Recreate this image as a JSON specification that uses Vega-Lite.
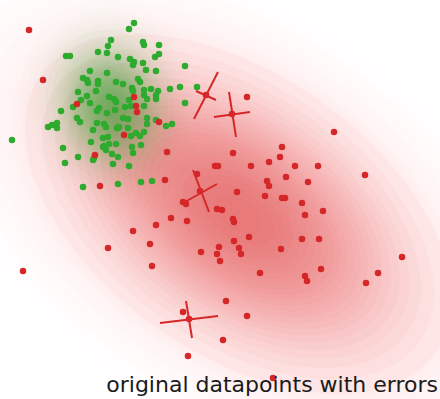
{
  "$schema": "https://vega.github.io/schema/vega-lite/v6.json",
  "width": 440,
  "height": 399,
  "autosize": {"type": "fit", "contains": "padding"},
  "padding": 0,
  "background": "white",
  "config": {"view": {"stroke": null}},
  "resolve": {"scale": {"size": "independent"}},
  "datasets": {
    "redTail": [
      {"cx":238,"cy":214,"p":0.006},{"cx":238,"cy":214,"p":0.015},{"cx":238,"cy":214,"p":0.025},{"cx":238,"cy":214,"p":0.035},
      {"cx":238,"cy":214,"p":0.045},{"cx":238,"cy":214,"p":0.055},{"cx":238,"cy":214,"p":0.065},{"cx":238,"cy":214,"p":0.075},{"cx":238,"cy":214,"p":0.085}
    ],
    "redDensity": [
      {"cx":238,"cy":214,"p":0.09},{"cx":238,"cy":214,"p":0.13},{"cx":238,"cy":214,"p":0.17},
      {"cx":238,"cy":214,"p":0.21},{"cx":238,"cy":214,"p":0.25},{"cx":238,"cy":214,"p":0.29},{"cx":238,"cy":214,"p":0.33},{"cx":238,"cy":214,"p":0.37},
      {"cx":238,"cy":214,"p":0.41},{"cx":238,"cy":214,"p":0.45},{"cx":238,"cy":214,"p":0.49},{"cx":238,"cy":214,"p":0.53},{"cx":238,"cy":214,"p":0.57},
      {"cx":238,"cy":214,"p":0.61},{"cx":238,"cy":214,"p":0.65},{"cx":238,"cy":214,"p":0.69},{"cx":238,"cy":214,"p":0.73},{"cx":238,"cy":214,"p":0.77},
      {"cx":238,"cy":214,"p":0.81},{"cx":238,"cy":214,"p":0.85},{"cx":238,"cy":214,"p":0.89},{"cx":238,"cy":214,"p":0.93},{"cx":238,"cy":214,"p":0.97}
    ],
    "greenTail": [
      {"cx":110,"cy":105,"p":0.005},{"cx":110,"cy":105,"p":0.012},{"cx":110,"cy":105,"p":0.02},{"cx":110,"cy":105,"p":0.03},{"cx":110,"cy":105,"p":0.04},{"cx":110,"cy":105,"p":0.05}
    ],
    "greenDensity": [
      {"cx":110,"cy":105,"p":0.07},{"cx":110,"cy":105,"p":0.11},{"cx":110,"cy":105,"p":0.15},{"cx":110,"cy":105,"p":0.19},
      {"cx":110,"cy":105,"p":0.23},{"cx":110,"cy":105,"p":0.27},{"cx":110,"cy":105,"p":0.31},{"cx":110,"cy":105,"p":0.35},{"cx":110,"cy":105,"p":0.39},
      {"cx":110,"cy":105,"p":0.43},{"cx":110,"cy":105,"p":0.47},{"cx":110,"cy":105,"p":0.51},{"cx":110,"cy":105,"p":0.55},{"cx":110,"cy":105,"p":0.59},
      {"cx":110,"cy":105,"p":0.63},{"cx":110,"cy":105,"p":0.67},{"cx":110,"cy":105,"p":0.71},{"cx":110,"cy":105,"p":0.75},{"cx":110,"cy":105,"p":0.79},
      {"cx":110,"cy":105,"p":0.83},{"cx":110,"cy":105,"p":0.87},{"cx":110,"cy":105,"p":0.91},{"cx":110,"cy":105,"p":0.95},{"cx":110,"cy":105,"p":0.99}
    ],
    "errors": [
      {"x1": 218, "y1": 72, "x2": 194, "y2": 119},
      {"x1": 196, "y1": 91, "x2": 216, "y2": 100},
      {"x1": 229, "y1": 92, "x2": 236, "y2": 137},
      {"x1": 214, "y1": 117, "x2": 250, "y2": 112},
      {"x1": 193, "y1": 170, "x2": 209, "y2": 212},
      {"x1": 183, "y1": 203, "x2": 217, "y2": 184},
      {"x1": 160, "y1": 323, "x2": 218, "y2": 316},
      {"x1": 186, "y1": 301, "x2": 192, "y2": 338}
    ],
    "green": [
      {"x":134,"y":23},{"x":129,"y":29},{"x":111,"y":40},{"x":108,"y":46},{"x":107,"y":53},{"x":98,"y":52},{"x":66,"y":56},{"x":70,"y":56},
      {"x":143,"y":42},{"x":144,"y":45},{"x":159,"y":45},{"x":118,"y":57},{"x":130,"y":59},{"x":134,"y":62},{"x":133,"y":65},{"x":143,"y":63},
      {"x":155,"y":57},{"x":159,"y":54},{"x":185,"y":66},{"x":90,"y":71},{"x":107,"y":73},{"x":146,"y":70},{"x":156,"y":71},{"x":83,"y":78},
      {"x":87,"y":80},{"x":98,"y":81},{"x":98,"y":84},{"x":88,"y":83},{"x":116,"y":82},{"x":123,"y":84},{"x":138,"y":79},{"x":140,"y":82},
      {"x":132,"y":88},{"x":133,"y":91},{"x":144,"y":90},{"x":151,"y":89},{"x":158,"y":91},{"x":170,"y":89},{"x":180,"y":87},{"x":197,"y":87},
      {"x":78,"y":92},{"x":96,"y":91},{"x":87,"y":96},{"x":81,"y":100},{"x":109,"y":97},{"x":114,"y":99},{"x":116,"y":102},{"x":90,"y":103},
      {"x":129,"y":100},{"x":144,"y":95},{"x":147,"y":99},{"x":156,"y":99},{"x":156,"y":95},{"x":185,"y":103},{"x":73,"y":107},{"x":99,"y":108},
      {"x":97,"y":111},{"x":107,"y":113},{"x":115,"y":110},{"x":125,"y":107},{"x":131,"y":106},{"x":144,"y":106},{"x":61,"y":111},{"x":77,"y":118},
      {"x":80,"y":122},{"x":123,"y":118},{"x":128,"y":119},{"x":147,"y":118},{"x":147,"y":124},{"x":156,"y":120},{"x":166,"y":126},{"x":172,"y":124},
      {"x":48,"y":127},{"x":52,"y":125},{"x":57,"y":123},{"x":57,"y":128},{"x":97,"y":123},{"x":104,"y":124},{"x":106,"y":127},{"x":117,"y":128},
      {"x":119,"y":127},{"x":128,"y":128},{"x":93,"y":130},{"x":131,"y":136},{"x":136,"y":133},{"x":140,"y":136},{"x":144,"y":132},{"x":12,"y":140},
      {"x":103,"y":138},{"x":108,"y":137},{"x":91,"y":142},{"x":109,"y":144},{"x":116,"y":144},{"x":103,"y":147},{"x":106,"y":150},{"x":104,"y":146},
      {"x":132,"y":147},{"x":141,"y":145},{"x":133,"y":153},{"x":63,"y":148},{"x":112,"y":154},{"x":118,"y":157},{"x":78,"y":157},{"x":93,"y":160},
      {"x":94,"y":158},{"x":65,"y":163},{"x":113,"y":164},{"x":129,"y":166},{"x":83,"y":187},{"x":118,"y":184},{"x":141,"y":182},{"x":152,"y":181}
    ],
    "red": [
      {"x":29,"y":30},{"x":43,"y":80},{"x":77,"y":104},{"x":134,"y":97},{"x":136,"y":106},{"x":137,"y":112},{"x":159,"y":122},{"x":124,"y":135},
      {"x":95,"y":155},{"x":167,"y":152},{"x":165,"y":180},{"x":100,"y":186},{"x":197,"y":174},{"x":215,"y":166},{"x":218,"y":166},{"x":206,"y":95},
      {"x":232,"y":114},{"x":200,"y":191},{"x":189,"y":319},{"x":247,"y":97},{"x":334,"y":132},{"x":282,"y":147},{"x":233,"y":153},{"x":280,"y":157},
      {"x":251,"y":166},{"x":269,"y":162},{"x":295,"y":166},{"x":318,"y":166},{"x":365,"y":175},{"x":286,"y":177},{"x":267,"y":181},{"x":269,"y":186},
      {"x":308,"y":182},{"x":237,"y":192},{"x":265,"y":196},{"x":282,"y":198},{"x":285,"y":198},{"x":183,"y":202},{"x":186,"y":204},{"x":217,"y":209},
      {"x":222,"y":210},{"x":171,"y":218},{"x":187,"y":221},{"x":233,"y":219},{"x":234,"y":222},{"x":156,"y":225},{"x":133,"y":231},{"x":249,"y":237},
      {"x":150,"y":244},{"x":108,"y":248},{"x":219,"y":247},{"x":234,"y":241},{"x":239,"y":248},{"x":241,"y":254},{"x":201,"y":252},{"x":217,"y":254},
      {"x":220,"y":261},{"x":152,"y":266},{"x":23,"y":271},{"x":260,"y":273},{"x":302,"y":203},{"x":323,"y":211},{"x":305,"y":215},{"x":302,"y":239},
      {"x":319,"y":239},{"x":281,"y":249},{"x":321,"y":269},{"x":305,"y":276},{"x":307,"y":281},{"x":402,"y":257},{"x":378,"y":273},{"x":366,"y":283},
      {"x":226,"y":301},{"x":183,"y":312},{"x":247,"y":316},{"x":223,"y":340},{"x":188,"y":356},{"x":273,"y":378}
    ],
    "caption": [{"label": "original datapoints with errors", "x": 438, "y": 392}]
  },
  "layer": [
    {
      "data": {"name": "redTail"},
      "mark": {"type": "point", "shape": "M -1 0 A 1 0.58 0 1 0 1 0 A 1 0.58 0 1 0 -1 0 Z", "filled": true, "color": "#d62728", "opacity": 0.006, "angle": 35, "strokeWidth": 0, "clip": true},
      "encoding": {
        "x": {"field": "cx", "type": "quantitative", "scale": {"domain": [0, 440], "nice": false, "zero": false}, "axis": null},
        "y": {"field": "cy", "type": "quantitative", "scale": {"domain": [0, 399], "nice": false, "zero": false, "reverse": true}, "axis": null},
        "size": {"field": "p", "type": "quantitative", "scale": {"type": "log", "domain": [1, 0.01], "range": [0, 444000]}, "legend": null}
      }
    },
    {
      "data": {"name": "redDensity"},
      "mark": {"type": "point", "shape": "M -1 0 A 1 0.58 0 1 0 1 0 A 1 0.58 0 1 0 -1 0 Z", "filled": true, "color": "#d62728", "opacity": 0.032, "angle": 35, "strokeWidth": 0, "clip": true},
      "encoding": {
        "x": {"field": "cx", "type": "quantitative", "scale": {"domain": [0, 440], "nice": false, "zero": false}, "axis": null},
        "y": {"field": "cy", "type": "quantitative", "scale": {"domain": [0, 399], "nice": false, "zero": false, "reverse": true}, "axis": null},
        "size": {"field": "p", "type": "quantitative", "scale": {"type": "log", "domain": [1, 0.01], "range": [0, 444000]}, "legend": null}
      }
    },
    {
      "data": {"name": "greenTail"},
      "mark": {"type": "point", "shape": "M -1 0 A 1 0.84 0 1 0 1 0 A 1 0.84 0 1 0 -1 0 Z", "filled": true, "color": "#2ca02c", "opacity": 0.008, "angle": 80, "strokeWidth": 0, "clip": true},
      "encoding": {
        "x": {"field": "cx", "type": "quantitative", "scale": {"domain": [0, 440], "nice": false, "zero": false}, "axis": null},
        "y": {"field": "cy", "type": "quantitative", "scale": {"domain": [0, 399], "nice": false, "zero": false, "reverse": true}, "axis": null},
        "size": {"field": "p", "type": "quantitative", "scale": {"type": "log", "domain": [1, 0.01], "range": [0, 40000]}, "legend": null}
      }
    },
    {
      "data": {"name": "greenDensity"},
      "mark": {"type": "point", "shape": "M -1 0 A 1 0.84 0 1 0 1 0 A 1 0.84 0 1 0 -1 0 Z", "filled": true, "color": "#2ca02c", "opacity": 0.033, "angle": 80, "strokeWidth": 0, "clip": true},
      "encoding": {
        "x": {"field": "cx", "type": "quantitative", "scale": {"domain": [0, 440], "nice": false, "zero": false}, "axis": null},
        "y": {"field": "cy", "type": "quantitative", "scale": {"domain": [0, 399], "nice": false, "zero": false, "reverse": true}, "axis": null},
        "size": {"field": "p", "type": "quantitative", "scale": {"type": "log", "domain": [1, 0.01], "range": [0, 40000]}, "legend": null}
      }
    },
    {
      "data": {"name": "green"},
      "mark": {"type": "circle", "color": "#2eaa2e", "opacity": 1, "size": 42},
      "encoding": {
        "x": {"field": "x", "type": "quantitative", "scale": {"domain": [0, 440], "nice": false, "zero": false}, "axis": null},
        "y": {"field": "y", "type": "quantitative", "scale": {"domain": [0, 399], "nice": false, "zero": false, "reverse": true}, "axis": null}
      }
    },
    {
      "data": {"name": "errors"},
      "mark": {"type": "rule", "color": "#d62728", "strokeWidth": 2},
      "encoding": {
        "x": {"field": "x1", "type": "quantitative", "scale": {"domain": [0, 440], "nice": false, "zero": false}, "axis": null},
        "y": {"field": "y1", "type": "quantitative", "scale": {"domain": [0, 399], "nice": false, "zero": false, "reverse": true}, "axis": null},
        "x2": {"field": "x2"},
        "y2": {"field": "y2"}
      }
    },
    {
      "data": {"name": "red"},
      "mark": {"type": "circle", "color": "#d62728", "opacity": 1, "size": 42},
      "encoding": {
        "x": {"field": "x", "type": "quantitative", "scale": {"domain": [0, 440], "nice": false, "zero": false}, "axis": null},
        "y": {"field": "y", "type": "quantitative", "scale": {"domain": [0, 399], "nice": false, "zero": false, "reverse": true}, "axis": null}
      }
    },
    {
      "data": {"name": "caption"},
      "mark": {"type": "text", "align": "right", "baseline": "alphabetic", "fontSize": 22, "font": "DejaVu Sans", "color": "#1a1a1a"},
      "encoding": {
        "x": {"field": "x", "type": "quantitative", "scale": {"domain": [0, 440], "nice": false, "zero": false}, "axis": null},
        "y": {"field": "y", "type": "quantitative", "scale": {"domain": [0, 399], "nice": false, "zero": false, "reverse": true}, "axis": null},
        "text": {"field": "label"}
      }
    }
  ]
}
